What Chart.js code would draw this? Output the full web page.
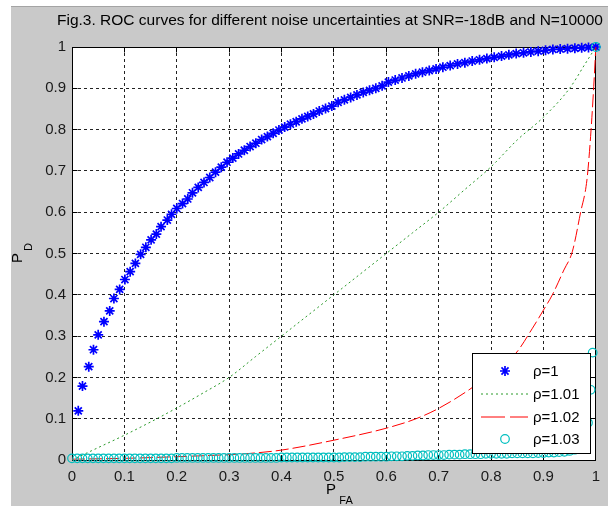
<!DOCTYPE html>
<html>
<head>
<meta charset="utf-8">
<script src="https://cdn.jsdelivr.net/npm/chart.js@4.4.0/dist/chart.umd.min.js"></script>
<style>
  html, body { margin: 0; padding: 0; background: #fff; }
  #wrap { position: relative; width: 608px; height: 506px; overflow: hidden; }
  #fig { position: absolute; left: 11px; top: 6px; right: 0; bottom: 0; background: #c9c9c9; border-top: 1px solid #a4a4a4; }
  canvas { position: absolute; left: 0; top: 0; }
</style>
</head>
<body>
<div id="wrap">
  <div id="fig"></div>
  <canvas id="roc" width="608" height="506"></canvas>
</div>
<script>
// Axis ticks (both axes use the same 0..1 grid)
const tickValues = [0, 0.1, 0.2, 0.3, 0.4, 0.5, 0.6, 0.7, 0.8, 0.9, 1];
const tickLabels = ['0', '0.1', '0.2', '0.3', '0.4', '0.5', '0.6', '0.7', '0.8', '0.9', '1'];

const seriesNames = ['\u03c1=1', '\u03c1=1.01', '\u03c1=1.02', '\u03c1=1.03'];

// rho = 1  (blue asterisks)
const pfa1 = [0.012,0.020,0.032,0.041,0.050,0.061,0.072,0.080,0.091,0.101,0.111,0.121,0.131,0.141,0.151,0.161,0.170,0.182,0.190,0.200,0.211,0.221,0.230,0.241,
  0.252,0.263,0.274,0.285,0.296,0.307,0.318,0.329,0.340,0.351,0.362,0.373,0.384,0.395,0.406,0.417,0.428,0.439,0.450,0.461,
  0.472,0.484,0.496,0.508,0.520,0.532,0.544,0.556,0.568,0.580,0.592,0.604,0.617,0.630,0.643,0.656,0.669,0.682,0.695,0.708,
  0.722,0.736,0.750,0.764,0.778,0.792,0.806,0.820,0.834,0.848,0.862,0.876,0.890,0.904,0.918,0.932,0.946,0.960,0.973,0.986,1.000];
const pd1 = [0.119,0.179,0.226,0.267,0.303,0.335,0.361,0.391,0.413,0.437,0.456,0.476,0.498,0.515,0.533,0.547,0.565,0.581,0.595,0.609,0.621,0.632,0.647,0.660,
  0.672,0.684,0.697,0.709,0.721,0.731,0.741,0.750,0.759,0.767,0.776,0.783,0.791,0.799,0.806,0.813,0.819,0.826,0.832,0.838,
  0.845,0.851,0.857,0.866,0.872,0.878,0.884,0.890,0.895,0.900,0.906,0.915,0.920,0.925,0.930,0.935,0.939,0.943,0.947,0.951,
  0.955,0.959,0.962,0.966,0.969,0.972,0.975,0.978,0.981,0.984,0.986,0.988,0.990,0.992,0.994,0.995,0.996,0.997,0.998,0.999,1.000];

// rho = 1.01 (green dotted)
const pfa2 = [0,0.05,0.1,0.15,0.2,0.25,0.3,0.35,0.4,0.45,0.5,0.55,0.6,0.65,0.7,0.75,0.8,0.85,0.9,0.95,0.98,1];
const pd2  = [0,0.03,0.06,0.092,0.126,0.162,0.2,0.25,0.3,0.35,0.4,0.45,0.5,0.55,0.6,0.655,0.71,0.775,0.83,0.9,0.96,1];

// rho = 1.02 (red dashed)
const pfa3 = [0,0.1,0.2,0.3,0.34,0.4,0.5,0.6,0.657,0.7,0.758,0.8,0.847,0.879,0.9,0.917,0.939,0.955,0.971,0.983,0.99,0.996,1];
const pd3  = [0.002,0.004,0.008,0.013,0.016,0.024,0.048,0.077,0.1,0.125,0.17,0.21,0.258,0.319,0.363,0.4,0.46,0.504,0.6,0.678,0.783,0.904,1];

// rho = 1.03 (cyan circles)
const pfa4 = [0,0.01,0.02,0.03,0.04,0.05,0.06,0.07,0.08,0.09,
  0.1,0.11,0.12,0.13,0.14,0.15,0.16,0.17,0.18,0.19,
  0.2,0.21,0.22,0.23,0.24,0.25,0.26,0.27,0.28,0.29,
  0.3,0.31,0.32,0.33,0.34,0.35,0.36,0.37,0.38,0.39,
  0.4,0.41,0.42,0.43,0.44,0.45,0.46,0.47,0.48,0.49,
  0.5,0.51,0.52,0.53,0.54,0.55,0.56,0.57,0.58,0.59,
  0.6,0.61,0.62,0.63,0.64,0.65,0.66,0.67,0.68,0.69,
  0.7,0.71,0.72,0.73,0.74,0.75,0.76,0.77,0.78,0.79,
  0.8,0.81,0.82,0.83,0.84,0.85,0.86,0.87,0.88,0.89,
  0.9,0.91,0.92,0.93,0.94,0.95,0.96,0.97,0.98,
  0.985,0.99,0.994,1];
const pd4 = [0.004,0.004,0.004,0.004,0.004,0.004,0.004,0.004,0.004,0.004,
  0.004,0.004,0.004,0.004,0.004,0.004,0.004,0.004,0.004,0.004,
  0.005,0.005,0.005,0.005,0.005,0.005,0.005,0.005,0.005,0.005,
  0.005,0.005,0.005,0.005,0.005,0.005,0.005,0.005,0.005,0.005,
  0.006,0.006,0.006,0.006,0.006,0.006,0.006,0.006,0.006,0.006,
  0.006,0.006,0.007,0.007,0.007,0.007,0.008,0.008,0.008,0.008,
  0.008,0.009,0.009,0.009,0.010,0.010,0.011,0.011,0.012,0.012,
  0.012,0.012,0.013,0.013,0.013,0.014,0.014,0.014,0.014,0.015,
  0.015,0.015,0.015,0.015,0.016,0.016,0.016,0.016,0.016,0.017,
  0.017,0.018,0.018,0.019,0.020,0.022,0.025,0.030,0.045,
  0.09,0.17,0.26,1];

const FONT = 'Arial, "Liberation Sans", sans-serif';

function toPoints(xs, ys) {
    return xs.map((x, i) => ({ x: x, y: ys[i] }));
}

// white plot area
const plotBackground = {
    id: 'plotBackground',
    beforeDraw(chart) {
        const { ctx, chartArea: a } = chart;
        ctx.save();
        ctx.fillStyle = '#ffffff';
        ctx.fillRect(a.left, a.top, a.right - a.left, a.bottom - a.top);
        ctx.restore();
    }
};

// box round the axes plus inward tick marks on all four sides
const axesBox = {
    id: 'axesBox',
    beforeDatasetsDraw(chart) {
        const { ctx, chartArea: a, scales } = chart;
        const L = Math.floor(a.left) + 0.5, R = Math.floor(a.right) + 0.5;
        const T = Math.floor(a.top) + 0.5, B = Math.floor(a.bottom) + 0.5;
        ctx.save();
        ctx.strokeStyle = '#000';
        ctx.lineWidth = 1;
        ctx.setLineDash([]);
        ctx.beginPath();
        tickValues.forEach(v => {
            const x = Math.floor(scales.x.getPixelForValue(v)) + 0.5;
            ctx.moveTo(x, B); ctx.lineTo(x, B - 5);
            ctx.moveTo(x, T); ctx.lineTo(x, T + 5);
            const y = Math.floor(scales.y.getPixelForValue(v)) + 0.5;
            ctx.moveTo(L, y); ctx.lineTo(L + 5, y);
            ctx.moveTo(R, y); ctx.lineTo(R - 5, y);
        });
        ctx.stroke();
        ctx.strokeRect(L, T, R - L, B - T);
        ctx.restore();
    }
};

// legend box inside the lower right corner of the axes
const insideLegend = {
    id: 'insideLegend',
    afterDatasetsDraw(chart) {
        const { ctx } = chart;
        const bx = 472, by = 353, bw = 118, bh = 100;
        const rows = [371, 393.5, 416.5, 439];
        ctx.save();
        ctx.fillStyle = '#fff';
        ctx.fillRect(bx, by, bw, bh);
        ctx.strokeStyle = '#000';
        ctx.lineWidth = 1;
        ctx.strokeRect(bx + 0.5, by + 0.5, bw, bh);
        chart.data.datasets.forEach((ds, i) => {
            const y = rows[i];
            ctx.save();
            if (ds.showLine) {
                ctx.strokeStyle = ds.borderColor;
                ctx.lineWidth = ds.borderWidth;
                ctx.setLineDash(ds.legendDash || ds.borderDash || []);
                ctx.beginPath();
                ctx.moveTo(481, y + 0.5);
                ctx.lineTo(528, y + 0.5);
                ctx.stroke();
            } else {
                ctx.strokeStyle = ds.borderColor;
                ctx.fillStyle = ds.backgroundColor;
                ctx.lineWidth = ds.pointBorderWidth;
                Chart.helpers.drawPoint(ctx, {
                    pointStyle: ds.pointStyle, rotation: 0,
                    radius: ds.pointRadius, borderWidth: ds.pointBorderWidth
                }, 505, y);
            }
            ctx.restore();
            ctx.fillStyle = '#000';
            ctx.font = '15px ' + FONT;
            ctx.textBaseline = 'middle';
            ctx.textAlign = 'left';
            ctx.fillText(ds.label, 533, y + 1);
        });
        ctx.restore();
    }
};

// title and axis labels with subscripts
const figureText = {
    id: 'figureText',
    afterDraw(chart) {
        const { ctx } = chart;
        ctx.save();
        ctx.fillStyle = '#000';
        ctx.textBaseline = 'middle';
        ctx.textAlign = 'center';
        ctx.font = '15.5px ' + FONT;
        ctx.fillText('Fig.3. ROC curves for different noise uncertainties at SNR=-18dB and N=10000', 330, 21);

        // P_FA
        ctx.font = '15px ' + FONT;
        ctx.fillText('P', 331, 490);
        ctx.font = '11px ' + FONT;
        ctx.fillText('FA', 346, 501);

        // P_D (rotated)
        ctx.translate(18, 258);
        ctx.rotate(-Math.PI / 2);
        ctx.font = '15px ' + FONT;
        ctx.fillText('P', 0, 0);
        ctx.font = '11px ' + FONT;
        ctx.fillText('D', 11, 11);
        ctx.restore();
    }
};

const axisOptions = (padding) => ({
    type: 'linear',
    min: 0,
    max: 1,
    afterBuildTicks: s => { s.ticks = tickValues.map(v => ({ value: v })); },
    ticks: {
        padding: padding,
        color: '#1a1a1a',
        font: { family: FONT, size: 15 },
        callback: (value, index) => tickLabels[index]
    },
    grid: { color: '#222', lineWidth: 1, drawTicks: false },
    border: { display: false, dash: [3, 3] }
});

const xAxis = axisOptions(8);
xAxis.afterFit = s => { s.height = 46; };
const yAxis = axisOptions(6);
yAxis.afterFit = s => { s.width = 72; };

new Chart(document.getElementById('roc').getContext('2d'), {
    type: 'scatter',
    data: {
        datasets: [
            {
                label: seriesNames[0],
                data: toPoints(pfa1, pd1),
                showLine: false,
                pointStyle: 'star',
                pointRadius: 5,
                pointBorderWidth: 1.7,
                borderColor: '#0000ff',
                backgroundColor: '#0000ff',
                order: 3,
                clip: 10
            },
            {
                label: seriesNames[1],
                data: toPoints(pfa2, pd2),
                showLine: true,
                pointRadius: 0,
                borderColor: '#2a9a2a',
                borderWidth: 1,
                borderDash: [2, 3],
                cubicInterpolationMode: 'monotone',
                order: 2,
                clip: 10
            },
            {
                label: seriesNames[2],
                data: toPoints(pfa3, pd3),
                showLine: true,
                pointRadius: 0,
                borderColor: '#ff0000',
                borderWidth: 1,
                borderDash: [13, 4],
                legendDash: [24, 5],
                cubicInterpolationMode: 'monotone',
                order: 1,
                clip: 10
            },
            {
                label: seriesNames[3],
                data: toPoints(pfa4, pd4),
                showLine: false,
                pointStyle: 'circle',
                pointRadius: 4.3,
                pointBorderWidth: 1.2,
                borderColor: '#00bfbf',
                backgroundColor: 'rgba(0,0,0,0)',
                order: 0,
                clip: 10
            }
        ]
    },
    options: {
        responsive: false,
        animation: false,
        layout: { padding: { left: 0, right: 11, top: 47, bottom: 0 } },
        plugins: {
            legend: { display: false },
            tooltip: { enabled: false },
            title: { display: false }
        },
        scales: { x: xAxis, y: yAxis }
    },
    plugins: [plotBackground, axesBox, insideLegend, figureText]
});
</script>
</body>
</html>
